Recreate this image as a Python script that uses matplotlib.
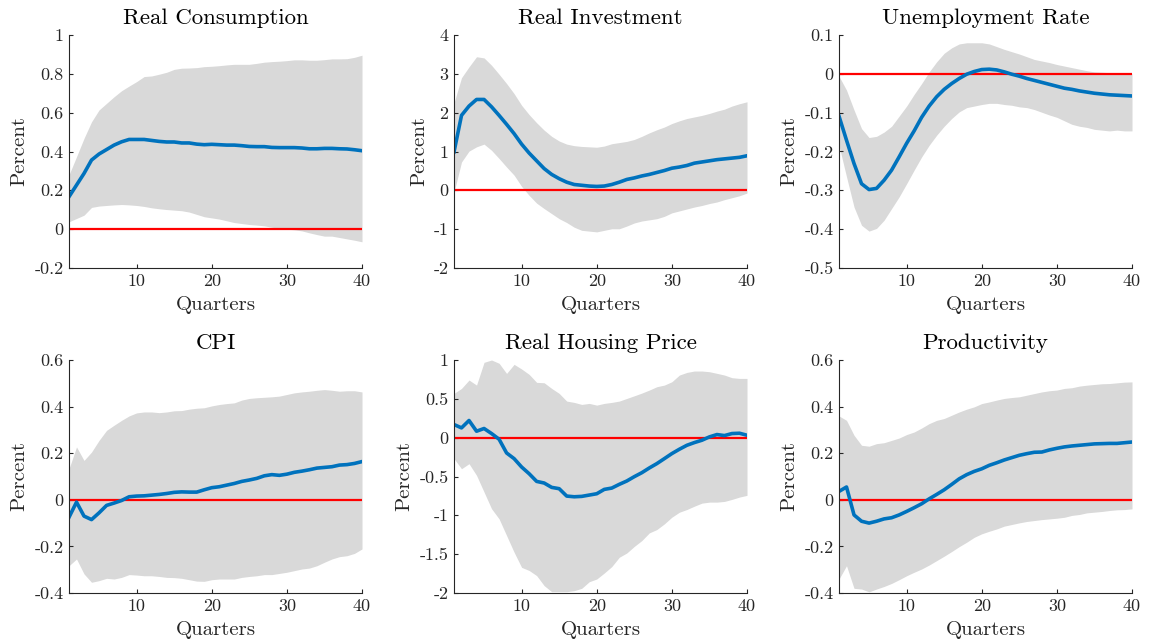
import numpy as np
import matplotlib
matplotlib.use("Agg")
import matplotlib.pyplot as plt
from matplotlib.ticker import FuncFormatter

plt.rcParams['font.family'] = ['cmr10', 'DejaVu Serif']
plt.rcParams['axes.formatter.use_mathtext'] = False

quarters = list(range(1, 41))

titles = ["Real Consumption", "Real Investment", "Unemployment Rate",
          "CPI", "Real Housing Price", "Productivity"]

cons_med = [0.167, 0.227, 0.287, 0.356, 0.387, 0.41, 0.433, 0.45, 0.462, 0.462,
            0.462, 0.457, 0.452, 0.449, 0.449, 0.444, 0.444, 0.438, 0.435, 0.437,
            0.435, 0.433, 0.433, 0.43, 0.426, 0.425, 0.425, 0.421, 0.42, 0.42,
            0.42, 0.418, 0.414, 0.414, 0.416, 0.416, 0.414, 0.413, 0.409, 0.404]
cons_up = [0.28, 0.373, 0.468, 0.553, 0.614, 0.648, 0.682, 0.713, 0.737, 0.76,
           0.786, 0.789, 0.798, 0.808, 0.823, 0.829, 0.83, 0.832, 0.837, 0.839,
           0.842, 0.846, 0.849, 0.849, 0.849, 0.854, 0.86, 0.863, 0.865, 0.868,
           0.872, 0.872, 0.87, 0.87, 0.873, 0.877, 0.877, 0.878, 0.885, 0.896]
cons_lo = [0.038, 0.055, 0.072, 0.112, 0.119, 0.122, 0.125, 0.127, 0.125, 0.122,
           0.117, 0.11, 0.105, 0.101, 0.098, 0.095, 0.088, 0.076, 0.064, 0.058,
           0.052, 0.043, 0.034, 0.029, 0.024, 0.021, 0.017, 0.01, 0.005, 0.0,
           -0.003, -0.009, -0.019, -0.028, -0.036, -0.036, -0.043, -0.05, -0.057, -0.065]

inv_med = [0.99, 1.93, 2.17, 2.34, 2.34, 2.15, 1.93, 1.70, 1.46, 1.19,
           0.96, 0.76, 0.56, 0.41, 0.30, 0.21, 0.15, 0.13, 0.11, 0.10,
           0.11, 0.15, 0.21, 0.28, 0.32, 0.37, 0.41, 0.46, 0.51, 0.57,
           0.60, 0.64, 0.70, 0.73, 0.76, 0.79, 0.81, 0.83, 0.85, 0.89]
inv_up = [2.25, 2.9, 3.18, 3.44, 3.41, 3.22, 2.99, 2.75, 2.49, 2.19,
          1.95, 1.74, 1.55, 1.39, 1.27, 1.19, 1.15, 1.13, 1.12, 1.11,
          1.14, 1.20, 1.23, 1.26, 1.31, 1.39, 1.48, 1.56, 1.63, 1.72,
          1.79, 1.85, 1.89, 1.93, 1.98, 2.04, 2.09, 2.17, 2.23, 2.28]
inv_lo = [-0.05, 0.73, 1.01, 1.12, 1.19, 1.03, 0.82, 0.60, 0.39, 0.10,
          -0.13, -0.33, -0.47, -0.60, -0.73, -0.83, -0.95, -1.03, -1.05, -1.07,
          -1.03, -0.99, -0.99, -0.92, -0.84, -0.79, -0.76, -0.73, -0.67, -0.58,
          -0.53, -0.48, -0.43, -0.39, -0.34, -0.30, -0.24, -0.19, -0.14, -0.07]

unemp_med = [-0.109, -0.171, -0.231, -0.283, -0.298, -0.295, -0.274, -0.248, -0.214, -0.179,
             -0.147, -0.112, -0.083, -0.059, -0.04, -0.025, -0.012, -0.001, 0.006, 0.011,
             0.012, 0.01, 0.005, -0.001, -0.006, -0.012, -0.017, -0.022, -0.027, -0.032,
             -0.037, -0.04, -0.044, -0.047, -0.05, -0.052, -0.054, -0.055, -0.056, -0.057]
unemp_up = [-0.006, -0.042, -0.093, -0.141, -0.164, -0.161, -0.15, -0.135, -0.109, -0.083,
            -0.053, -0.025, 0.005, 0.031, 0.053, 0.067, 0.077, 0.08, 0.08, 0.08,
            0.077, 0.07, 0.063, 0.057, 0.051, 0.044, 0.037, 0.033, 0.029, 0.024,
            0.02, 0.016, 0.012, 0.008, 0.005, 0.004, 0.003, 0.002, 0.001, 0.001]
unemp_lo = [-0.185, -0.265, -0.343, -0.39, -0.405, -0.398, -0.377, -0.347, -0.317, -0.283,
            -0.248, -0.214, -0.184, -0.158, -0.135, -0.115, -0.098, -0.087, -0.083, -0.079,
            -0.076, -0.076, -0.079, -0.081, -0.085, -0.087, -0.092, -0.099, -0.106, -0.112,
            -0.121, -0.13, -0.135, -0.138, -0.143, -0.145, -0.147, -0.145, -0.147, -0.147]

cpi_med = [-0.075, -0.01, -0.07, -0.085, -0.056, -0.024, -0.014, -0.003, 0.013, 0.016,
           0.017, 0.02, 0.023, 0.027, 0.032, 0.034, 0.033, 0.033, 0.043, 0.052,
           0.056, 0.063, 0.07, 0.079, 0.085, 0.092, 0.103, 0.108, 0.105, 0.11,
           0.118, 0.123, 0.129, 0.136, 0.139, 0.142, 0.149, 0.151, 0.156, 0.164]
cpi_up = [0.133, 0.227, 0.169, 0.205, 0.255, 0.298, 0.32, 0.341, 0.36, 0.373,
          0.377, 0.377, 0.374, 0.377, 0.382, 0.383, 0.389, 0.393, 0.395, 0.403,
          0.409, 0.413, 0.416, 0.428, 0.435, 0.438, 0.44, 0.442, 0.445, 0.452,
          0.459, 0.463, 0.466, 0.47, 0.473, 0.47, 0.466, 0.468, 0.468, 0.463]
cpi_lo = [-0.283, -0.254, -0.318, -0.354, -0.347, -0.337, -0.34, -0.333, -0.321, -0.323,
          -0.326, -0.326, -0.329, -0.333, -0.334, -0.337, -0.343, -0.349, -0.35, -0.343,
          -0.34, -0.34, -0.34, -0.333, -0.329, -0.326, -0.321, -0.321, -0.316, -0.311,
          -0.304, -0.297, -0.293, -0.283, -0.268, -0.254, -0.244, -0.24, -0.23, -0.211]

house_med = [0.169, 0.126, 0.221, 0.083, 0.118, 0.053, -0.02, -0.197, -0.27, -0.378,
             -0.464, -0.563, -0.584, -0.64, -0.657, -0.752, -0.761, -0.756, -0.739, -0.722,
             -0.666, -0.649, -0.601, -0.558, -0.502, -0.451, -0.39, -0.334, -0.27, -0.205,
             -0.149, -0.098, -0.063, -0.033, 0.01, 0.04, 0.027, 0.053, 0.057, 0.031]
house_up = [0.57, 0.634, 0.742, 0.677, 0.97, 1.0, 0.958, 0.827, 0.944, 0.884,
            0.815, 0.712, 0.707, 0.634, 0.57, 0.471, 0.454, 0.428, 0.441, 0.419,
            0.441, 0.454, 0.471, 0.505, 0.539, 0.574, 0.613, 0.656, 0.677, 0.72,
            0.806, 0.84, 0.858, 0.858, 0.849, 0.828, 0.806, 0.772, 0.763, 0.763]
house_lo = [-0.27, -0.4, -0.335, -0.485, -0.7, -0.915, -1.045, -1.26, -1.475, -1.67,
            -1.71, -1.776, -1.905, -1.983, -1.983, -1.983, -1.97, -1.94, -1.855, -1.82,
            -1.743, -1.66, -1.54, -1.485, -1.4, -1.325, -1.226, -1.183, -1.11, -1.024,
            -0.96, -0.925, -0.882, -0.843, -0.83, -0.83, -0.821, -0.795, -0.765, -0.743]

prod_med = [0.036, 0.055, -0.065, -0.092, -0.1, -0.092, -0.082, -0.077, -0.065, -0.05,
            -0.034, -0.017, 0.004, 0.023, 0.043, 0.066, 0.09, 0.108, 0.122, 0.133,
            0.148, 0.159, 0.171, 0.181, 0.191, 0.198, 0.204, 0.205, 0.214, 0.221,
            0.227, 0.231, 0.234, 0.237, 0.24, 0.241, 0.242, 0.242, 0.245, 0.248]
prod_up = [0.36, 0.341, 0.277, 0.234, 0.23, 0.241, 0.245, 0.255, 0.265, 0.28,
           0.291, 0.308, 0.327, 0.341, 0.349, 0.363, 0.377, 0.389, 0.399, 0.413,
           0.42, 0.428, 0.435, 0.439, 0.442, 0.449, 0.456, 0.463, 0.468, 0.471,
           0.478, 0.481, 0.488, 0.492, 0.495, 0.498, 0.499, 0.502, 0.505, 0.506]
prod_lo = [-0.34, -0.283, -0.38, -0.383, -0.395, -0.383, -0.372, -0.359, -0.343, -0.326,
           -0.311, -0.297, -0.28, -0.261, -0.242, -0.222, -0.201, -0.182, -0.161, -0.146,
           -0.135, -0.125, -0.113, -0.106, -0.099, -0.093, -0.089, -0.085, -0.082, -0.079,
           -0.075, -0.067, -0.063, -0.056, -0.053, -0.05, -0.046, -0.043, -0.042, -0.039]

ylims = [(-0.2, 1.0), (-2, 4), (-0.5, 0.1), (-0.4, 0.6), (-2, 1), (-0.4, 0.6)]
yticks = [[-0.2, 0, 0.2, 0.4, 0.6, 0.8, 1],
          [-2, -1, 0, 1, 2, 3, 4],
          [-0.5, -0.4, -0.3, -0.2, -0.1, 0, 0.1],
          [-0.4, -0.2, 0, 0.2, 0.4, 0.6],
          [-2, -1.5, -1, -0.5, 0, 0.5, 1],
          [-0.4, -0.2, 0, 0.2, 0.4, 0.6]]
xticks = [10, 20, 30, 40]

series = [(cons_med, cons_up, cons_lo), (inv_med, inv_up, inv_lo),
          (unemp_med, unemp_up, unemp_lo), (cpi_med, cpi_up, cpi_lo),
          (house_med, house_up, house_lo), (prod_med, prod_up, prod_lo)]

W, H = 1150, 644
fig = plt.figure(figsize=(W / 100, H / 100), dpi=100)

lefts = [69, 454, 839]
tops = [35, 360]
aw, ah = 293, 233


def fmt(v, pos):
    s = ('%g' % round(v, 6))
    return s


for i, (t, (med, up, lo)) in enumerate(zip(titles, series)):
    r, c = divmod(i, 3)
    l = lefts[c] / W
    b = 1 - (tops[r] + ah) / H
    ax = fig.add_axes([l, b, aw / W, ah / H])
    ax.fill_between(quarters, lo, up, color='#d9d9d9', linewidth=0)
    ax.axhline(0, color='#ff0000', linewidth=1.6)
    ax.plot(quarters, med, color='#0072bd', linewidth=2.6)
    ax.set_xlim(1, 40)
    ax.set_ylim(*ylims[i])
    ax.set_xticks(xticks)
    ax.set_yticks(yticks[i])
    ax.yaxis.set_major_formatter(FuncFormatter(fmt))
    for s in ['top', 'right']:
        ax.spines[s].set_visible(False)
    for s in ['left', 'bottom']:
        ax.spines[s].set_color('#262626')
        ax.spines[s].set_linewidth(0.8)
    ax.tick_params(direction='in', length=3, width=0.8, colors='#262626',
                   labelsize=13, labelcolor='#262626', pad=4)
    ax.set_title(t, fontsize=16.5, pad=8, color='black')
    ax.set_xlabel('Quarters', fontsize=15, labelpad=5, color='#262626')
    ax.set_ylabel('Percent', fontsize=15, labelpad=4, color='#262626')

fig.savefig('out.png', dpi=100)
